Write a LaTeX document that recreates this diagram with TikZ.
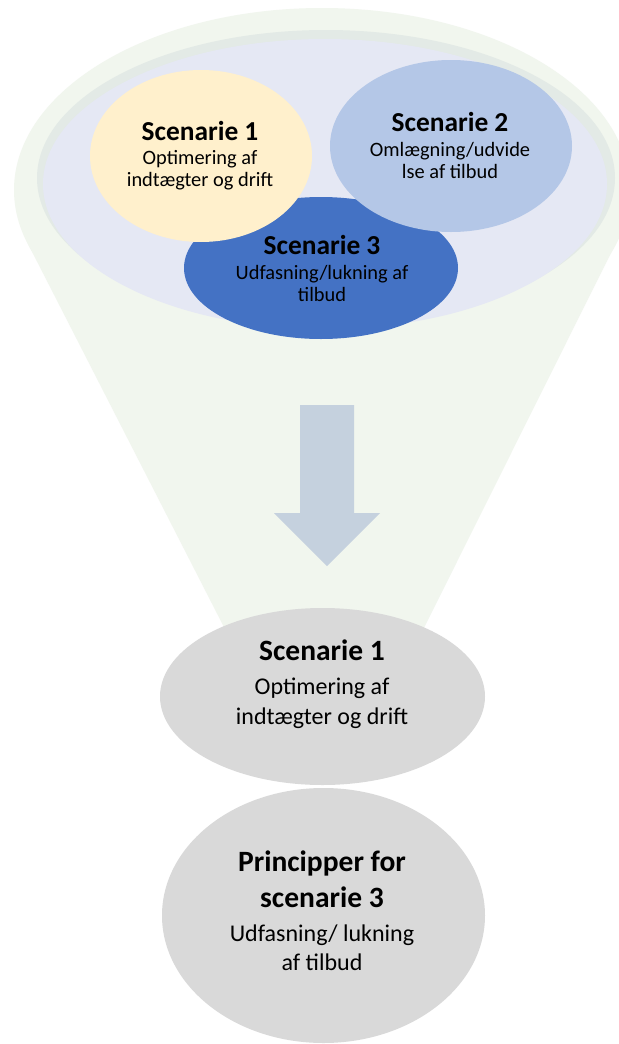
\documentclass[tikz,border=0pt]{standalone}
\usepackage{fontspec}
\setmainfont{Carlito}
\usetikzlibrary{shapes.geometric}
\definecolor{funnelgreen}{HTML}{F1F6EE}
\definecolor{rimgray}{HTML}{E3EAE6}
\definecolor{lavender}{HTML}{E5E8F4}
\definecolor{lightgold}{HTML}{FFF0CC}
\definecolor{lightblue}{HTML}{B4C7E7}
\definecolor{midblue}{HTML}{4472C4}
\definecolor{softgray}{HTML}{D9D9D9}
\definecolor{arrowblue}{HTML}{C5D1DE}
\tikzset{
  blob/.style={ellipse, inner sep=0pt, draw=none},
  toptitle/.style={anchor=base, inner sep=0pt, font=\fontsize{13.7}{16}\selectfont\bfseries},
  toptext/.style={anchor=base, inner sep=0pt, font=\fontsize{10.2}{12}\selectfont},
  lowtitle/.style={anchor=base, inner sep=0pt, font=\fontsize{14.75}{17}\selectfont\bfseries},
  lowtext/.style={anchor=base, inner sep=0pt, font=\fontsize{12}{14}\selectfont}
}
\begin{document}
\begin{tikzpicture}[x=0.5pt,y=-0.5pt]
\useasboundingbox (0,0) rectangle (619,1044);
\fill[white] (0,0) rectangle (619,1044);
% funnel
\fill[funnelgreen] (322,190) ellipse [x radius=154pt, y radius=91pt];
\fill[funnelgreen] (26,240) -- (617,241) -- (398,680) -- (251,680) -- cycle;
% bowl
\node[blob, fill=rimgray, minimum width=289pt, minimum height=148pt] (rim) at (326,178) {};
\node[blob, fill=lavender, minimum width=282pt, minimum height=145pt] (bowl) at (325,184) {};
% scenario blobs
\node[blob, fill=midblue, minimum width=137pt, minimum height=71pt] (s3) at (321,268) {};
\node[blob, fill=lightgold, minimum width=111pt, minimum height=86pt] (s1) at (201,156) {};
\node[blob, fill=lightblue, minimum width=121pt, minimum height=86pt] (s2) at (451,146) {};
% texts top
\node[toptitle] (s1t) at (200,140) {Scenarie 1};
\node[toptext] (s1a) at (200,164) {Optimering af};
\node[toptext] (s1b) at (200,186) {indtægter og drift};
\node[toptitle] (s2t) at (450,131) {Scenarie 2};
\node[toptext] (s2a) at (450,156) {Omlægning/udvide};
\node[toptext] (s2b) at (450,178) {lse af tilbud};
\node[toptitle] (s3t) at (322,254) {Scenarie 3};
\node[toptext] (s3a) at (322,279) {Udfasning/lukning af};
\node[toptext] (s3b) at (322,301) {tilbud};
% arrow
\fill[arrowblue] (300,405) -- (354,405) -- (354,513) -- (380,513) -- (327,566)
  -- (274,513) -- (300,513) -- cycle;
% lower ellipses
\node[blob, fill=softgray, minimum width=162.5pt, minimum height=88.5pt] (g1) at (322.5,696.5) {};
\node[blob, fill=softgray, minimum width=161.5pt, minimum height=127.5pt] (g2) at (323.5,915.5) {};
\node[lowtitle] (g1t) at (322,660) {Scenarie 1};
\node[lowtext] (g1a) at (322,694) {Optimering af};
\node[lowtext] (g1b) at (322,724) {indtægter og drift};
\node[lowtitle] (g2t) at (322,871) {Principper for};
\node[lowtitle] (g2u) at (322,907) {scenarie 3};
\node[lowtext] (g2a) at (322,941) {Udfasning/ lukning};
\node[lowtext] (g2b) at (322,970) {af tilbud};
\end{tikzpicture}
\end{document}
